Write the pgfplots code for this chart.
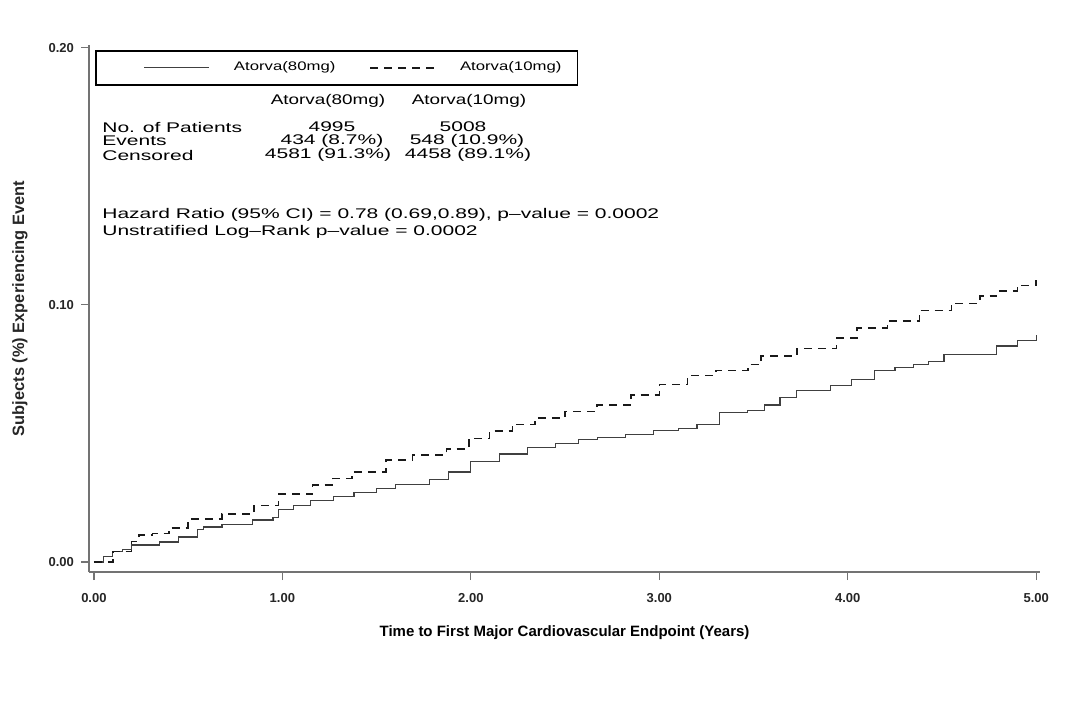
\documentclass[border=0pt]{standalone}
\usepackage{fontspec}
\setmainfont{Liberation Sans}
\newfontfamily\widefont{Liberation Sans}[FakeStretch=1.5]
\newfontfamily\headfont{Liberation Sans}[FakeStretch=1.35]
\usepackage{pgfplots}
\pgfplotsset{compat=1.18}

\begin{document}
\begin{tikzpicture}
\useasboundingbox (0,0) rectangle (537pt,351pt);
\begin{axis}[
  at={(44.5pt,65pt)}, anchor=south west,
  scale only axis, width=475.5pt, height=263.5pt,
  xmin=-0.026, xmax=5.02, ymin=-0.0039, ymax=0.201,
  axis x line*=bottom, axis y line*=left,
  axis line style={black!55, line width=0.6pt},
  xtick={0,1,2,3,4,5}, ytick={0,0.1,0.2},
  scaled y ticks=false,
  tick align=outside, major tick length=4pt,
  tick style={black!55, line width=0.6pt},
  /pgf/number format/fixed, /pgf/number format/fixed zerofill,
  /pgf/number format/precision=2, /pgf/number format/assume math mode=true,
  ticklabel style={font=\bfseries\fontsize{6.5}{7}\selectfont, text=black!85},
  xticklabel style={yshift=-3pt},
  xlabel={Time to First Major Cardiovascular Endpoint (Years)},
  ylabel={Subjects (\%) Experiencing Event},
  xlabel style={font=\bfseries\fontsize{7.5}{8}\selectfont,
    at={(rel axis cs:0.5,0)}, anchor=center, yshift=-30.5pt},
  ylabel style={font=\bfseries\fontsize{8.2}{9}\selectfont, text=black!85,
    at={(rel axis cs:0,0.5)}, anchor=center, yshift=34.5pt},
  legend columns=2,
  legend style={at={(0.0063,0.9905)}, anchor=north west, draw=black,
    line width=0.8pt, font=\headfont\fontsize{6.2}{7.2}\selectfont,
    inner xsep=6pt, inner ysep=3.5pt, cells={anchor=west},
    /tikz/every odd column/.style={column sep=10pt},
    /tikz/every even column/.style={column sep=-3pt}},
  legend image code/.code={\path (0pt,0pt); \draw[#1] (18pt,0pt) -- (50.5pt,0pt);},
]
\addplot[const plot, black!75, line width=0.6pt] coordinates {
  (0,0) (0.05,0.002) (0.10,0.004) (0.15,0.005) (0.20,0.0066)
  (0.35,0.0078) (0.45,0.0097) (0.55,0.0125) (0.58,0.0136)
  (0.68,0.0147) (0.84,0.0163) (0.95,0.0174) (0.98,0.0205)
  (1.06,0.022) (1.15,0.024) (1.27,0.0255) (1.38,0.027) (1.50,0.0285)
  (1.60,0.030) (1.78,0.032) (1.88,0.035) (2.00,0.039) (2.15,0.042)
  (2.30,0.0446) (2.45,0.046) (2.57,0.0477) (2.67,0.0485) (2.82,0.0495)
  (2.97,0.051) (3.10,0.052) (3.20,0.0535) (3.32,0.058) (3.47,0.059)
  (3.56,0.061) (3.64,0.064) (3.73,0.0667) (3.91,0.0686) (4.02,0.071)
  (4.14,0.0744) (4.25,0.0755) (4.35,0.0767) (4.43,0.078) (4.51,0.0806)
  (4.62,0.0806) (4.79,0.084) (4.90,0.086) (5.00,0.0884)
};
\addlegendentry{Atorva(80mg)}
\addplot[const plot, black!90, line width=0.8pt, dash pattern=on 4pt off 3pt] coordinates {
  (0,0) (0.10,0.004) (0.20,0.008) (0.24,0.0105) (0.31,0.011)
  (0.40,0.0133) (0.50,0.0167) (0.68,0.0186) (0.85,0.022) (0.98,0.0264)
  (1.16,0.030) (1.27,0.0325) (1.37,0.035) (1.55,0.0396) (1.69,0.0415)
  (1.87,0.044) (1.99,0.048) (2.10,0.051) (2.22,0.0535) (2.34,0.056)
  (2.50,0.0585) (2.67,0.061) (2.85,0.065) (3.00,0.069) (3.15,0.0725)
  (3.30,0.0745) (3.47,0.0767) (3.54,0.080) (3.73,0.083) (3.94,0.087)
  (4.05,0.091) (4.21,0.0937) (4.38,0.0977) (4.55,0.1005) (4.70,0.1035)
  (4.79,0.1054) (4.90,0.1075) (5.00,0.1097)
};
\addlegendentry{Atorva(10mg)}
\end{axis}
\begin{scope}[x=0.5pt, y=-0.5pt, shift={(0pt,351pt)},
  every node/.style={font=\widefont\fontsize{7}{8}\selectfont, inner sep=0pt}]
  \node[font=\headfont\fontsize{7}{8}\selectfont] at (328,101) {Atorva(80mg)};
  \node[font=\headfont\fontsize{7}{8}\selectfont] at (469,101) {Atorva(10mg)};
  \node[anchor=west] at (102,127) {No. of Patients};
  \node[anchor=west] at (102,141) {Events};
  \node[anchor=west] at (102,155) {Censored};
  \node at (332,127) {4995};
  \node at (332,141) {434 (8.7\%)};
  \node at (328,155) {4581 (91.3\%)};
  \node at (463,127) {5008};
  \node at (467,141) {548 (10.9\%)};
  \node at (468,155) {4458 (89.1\%)};
  \node[anchor=west] at (102,215) {Hazard Ratio (95\% CI) = 0.78 (0.69,0.89), p–value = 0.0002};
  \node[anchor=west] at (102,232) {Unstratified Log–Rank p–value = 0.0002};
\end{scope}
\end{tikzpicture}
\end{document}
